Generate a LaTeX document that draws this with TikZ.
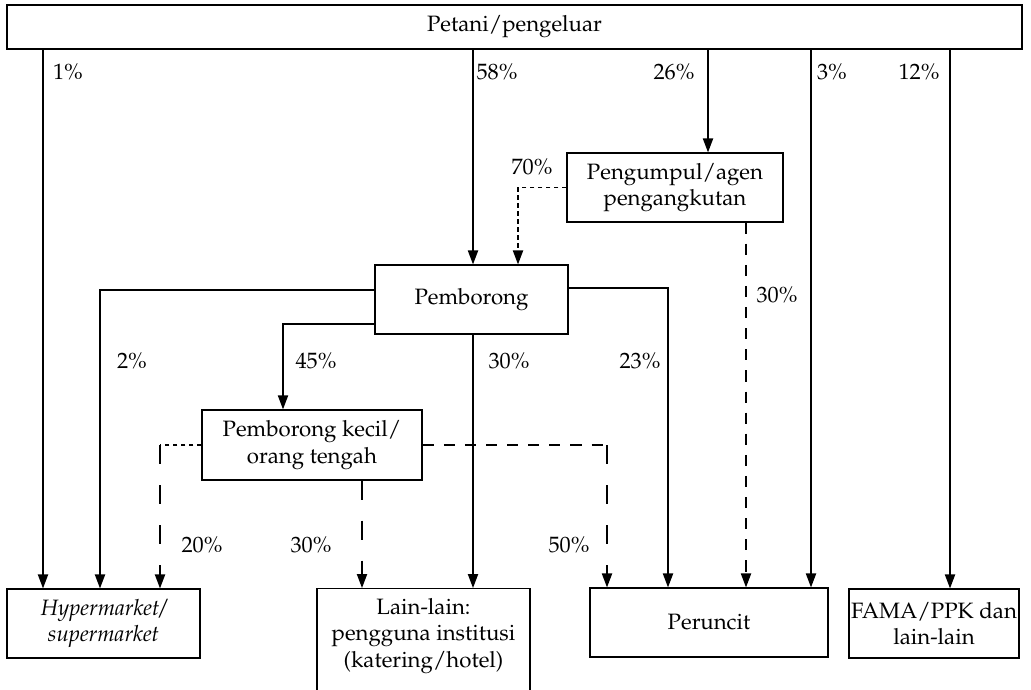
\documentclass[tikz,border=0pt]{standalone}
\usepackage[T1]{fontenc}
\usepackage{mathpazo}
\usetikzlibrary{arrows.meta}

\begin{document}
\begin{tikzpicture}[x=0.45pt,y=-0.45pt,
  box/.style={draw, line width=0.6pt, align=center, inner sep=0pt},
  flow/.style={line width=0.6pt, -{Triangle[length=6.3pt,width=4.6pt]}},
  shortdash/.style={dash pattern=on 2pt off 1.6pt},
  longdash/.style={dash pattern=on 5pt off 4.5pt},
  widedash/.style={dash pattern=on 8.5pt off 9.5pt},
  pct/.style={inner sep=0pt}]
\useasboundingbox (0,0) rectangle (1031,689);

% boxes
\node[box, minimum width=456.8pt, minimum height=19.8pt] (petani) at (514.5,27) {Petani/pengeluar};
\node[box, minimum width=97.2pt, minimum height=31pt] (peng) at (675,187.5) {Pengumpul/agen\\pengangkutan};
\node[box, minimum width=86.9pt, minimum height=31pt] (pemb) at (471.5,299.5) {Pemborong};
\node[box, minimum width=99pt, minimum height=31.5pt] (kecil) at (312,445) {Pemborong kecil/\\orang tengah};
\node[box, minimum width=86.9pt, minimum height=31pt, font=\itshape] (hyper) at (103.5,623.5) {Hypermarket/\\supermarket};
\node[box, minimum width=95.9pt, minimum height=56pt, anchor=north] (lain) at (423.5,588) {};
\node[align=center, inner sep=0pt] (laintext) at (423.5,636) {Lain-lain:\\pengguna institusi\\(katering/hotel)};
\node[box, minimum width=107.1pt, minimum height=31pt] (perun) at (709,622.5) {Peruncit};
\node[box, minimum width=76.5pt, minimum height=31pt] (fama) at (934,623.5) {FAMA/PPK dan\\lain-lain};

% percentages
\node[pct] (p1) at (68,72) {1\%};
\node[pct] (p58) at (497,72) {58\%};
\node[pct] (p26) at (674,72) {26\%};
\node[pct] (p3) at (832,72) {3\%};
\node[pct] (p12) at (919,72) {12\%};
\node[pct] (p70) at (532,167) {70\%};
\node[pct] (p30a) at (777,295) {30\%};
\node[pct] (p2) at (132,361) {2\%};
\node[pct] (p45) at (316,361) {45\%};
\node[pct] (p30b) at (509,361) {30\%};
\node[pct] (p23) at (640,361) {23\%};
\node[pct] (p20) at (202,545) {20\%};
\node[pct] (p30c) at (311,545) {30\%};
\node[pct] (p50) at (569,545) {50\%};

% from petani
\draw[flow] (43,0 |- petani.south) -- (43,0 |- hyper.north);
\draw[flow] (473,0 |- petani.south) -- (473,0 |- pemb.north);
\draw[flow] (708,0 |- petani.south) -- (708,0 |- peng.north);
\draw[flow] (811,0 |- petani.south) -- (811,0 |- perun.north);
\draw[flow] (950,0 |- petani.south) -- (950,0 |- fama.north);

% from pengumpul
\draw[flow, shortdash] (peng.west) -| (518,0 |- pemb.north);
\draw[flow, longdash] (746,0 |- peng.south) -- (746,0 |- perun.north);

% from pemborong
\draw[flow] (pemb.west |- 0,290) -| (100,0 |- hyper.north);
\draw[flow] (pemb.west |- 0,324) -| (283,0 |- kecil.north);
\draw[flow] (473,0 |- pemb.south) -- (473,0 |- lain.north);
\draw[flow] (pemb.east |- 0,288) -| (668,0 |- perun.north);

% from pemborong kecil
\draw[shortdash, line width=0.6pt] (kecil.west) -- (160,0 |- kecil.west) coordinate (c20);
\draw[flow, widedash] (c20) -- (c20 |- hyper.north);
\draw[flow, widedash] (362,0 |- kecil.south) -- (362,0 |- lain.north);
\draw[longdash, line width=0.6pt] (kecil.east) -- (607,0 |- kecil.east) coordinate (c50);
\draw[flow, widedash] (c50) -- (c50 |- perun.north);
\end{tikzpicture}
\end{document}
